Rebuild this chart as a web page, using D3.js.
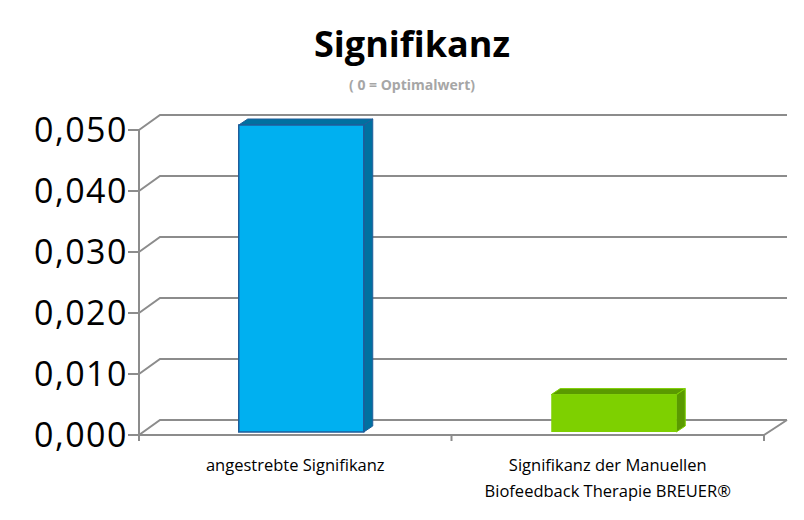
<!DOCTYPE html><html><head><meta charset="utf-8"><script src="https://cdn.jsdelivr.net/npm/d3@7"></script>
<style>body{margin:0;background:#fff}</style></head><body><svg id="c" width="804" height="520"></svg>
<script>
const categories=[["angestrebte Signifikanz"],["Signifikanz der Manuellen","Biofeedback Therapie BREUER®"]];
const values=[0.05,0.0058];
const tickValues=[0,0.01,0.02,0.03,0.04,0.05];
const colors=[["#00B0F0","#0070A0","#1F5D9A"],["#7ED000","#5A9A00","#7ED000"]];
const svg=d3.select("#c"),F="'Open Sans',sans-serif";
const y=d3.scaleLinear().domain([0,0.05]).range([435,130]);
const x=d3.scaleBand().domain([0,1]).range([139,764]);
const DX=21,DY=-15,g="#8c8c8c";
svg.append("text").attr("x",412).attr("y",57).attr("text-anchor","middle").attr("font-family",F).attr("font-weight","bold").attr("font-size",36).text("Signifikanz");
svg.append("text").attr("x",412).attr("y",90).attr("text-anchor","middle").attr("font-family",F).attr("font-weight","bold").attr("font-size",14).attr("fill","#a6a6a6").text("( 0 = Optimalwert)");
tickValues.forEach(t=>{const yy=y(t);
 svg.append("path").attr("d",`M139,${yy}L${139+DX},${yy+DY}L787,${yy+DY}`).attr("fill","none").attr("stroke",g).attr("stroke-width",2);
 svg.append("line").attr("x1",128).attr("x2",139).attr("y1",yy).attr("y2",yy).attr("stroke",g).attr("stroke-width",2);
 svg.append("text").attr("x",128).attr("y",yy+12).attr("text-anchor","end").attr("font-family",F).attr("font-size",34).attr("letter-spacing",1.5).text(d3.format(".3f")(t).replace(".",","));
});
svg.append("path").attr("d",`M139,${y(0)}L764,${y(0)}L787,${y(0)+DY}`).attr("fill","none").attr("stroke",g).attr("stroke-width",2);
svg.append("line").attr("x1",139).attr("x2",139).attr("y1",y(0.05)).attr("y2",y(0)+6).attr("stroke",g).attr("stroke-width",2);
[139,x(1),764].forEach(v=>svg.append("line").attr("x1",v).attr("x2",v).attr("y1",y(0)).attr("y2",y(0)+6).attr("stroke",g).attr("stroke-width",2));
const bw=x.bandwidth()*0.4,bx=9,by=-6;
values.forEach((v,i)=>{const x0=x(i)+x.bandwidth()/2-bw/2+6,x1=x0+bw,top=y(v)-5,bot=y(0)-3,c=colors[i];
 svg.append("path").attr("d",`M${x1},${top}L${x1+bx},${top+by}L${x1+bx},${bot+by}L${x1},${bot}Z`).attr("fill",c[1]).attr("stroke",c[2]).attr("stroke-width",1);
 svg.append("path").attr("d",`M${x0},${top}L${x0+bx},${top+by}L${x1+bx},${top+by}L${x1},${top}Z`).attr("fill",c[1]).attr("stroke",c[2]).attr("stroke-width",1);
 svg.append("rect").attr("x",x0).attr("y",top).attr("width",bw).attr("height",bot-top).attr("fill",c[0]).attr("stroke",c[2]).attr("stroke-width",i?0:1.5);
 categories[i].forEach((l,k)=>svg.append("text").attr("x",x(i)+x.bandwidth()/2).attr("y",471+k*26).attr("text-anchor","middle").attr("font-family",F).attr("font-size",16.5).text(l));
});
</script></body></html>
